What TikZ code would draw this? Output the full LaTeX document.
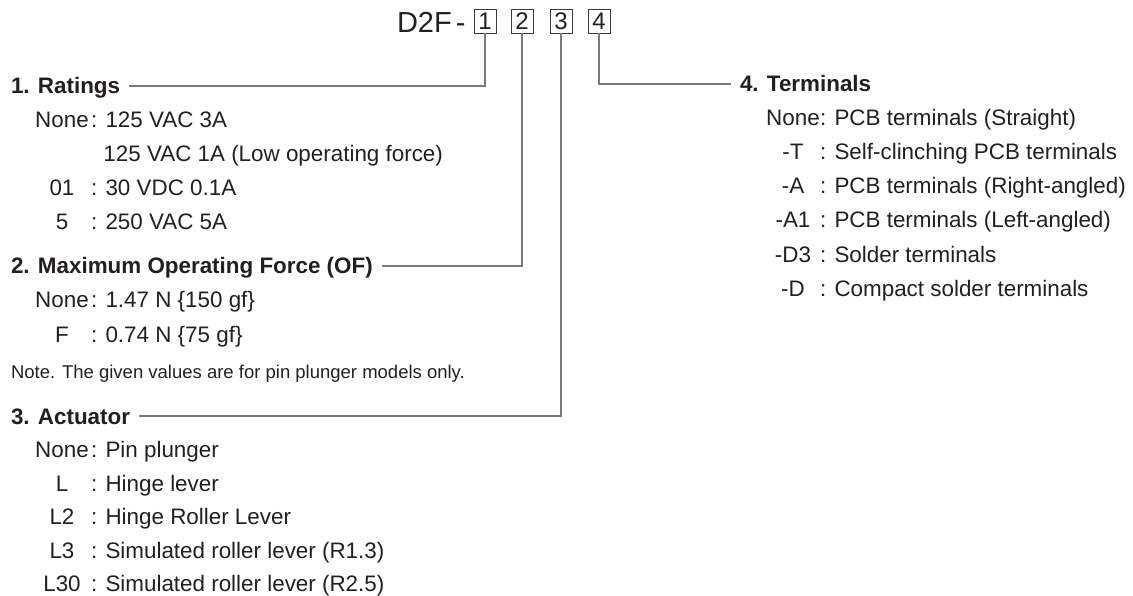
\documentclass[tikz,border=0pt]{standalone}
\usepackage{fontspec}
\setmainfont{Liberation Sans}
\definecolor{txt}{HTML}{231F20}
\definecolor{linegray}{HTML}{7A7A7A}
\definecolor{boxgray}{HTML}{3A3A3A}
\newcommand\optrow[6]{%
  \node[codetext] (#1-c) at (#2,#4) {#5};
  \node[desctext] (#1-d) at (#3,#4) {: #6};}
\begin{document}
\begin{tikzpicture}[x=1pt,y=-1pt,
  every node/.style={inner sep=0pt, outer sep=0pt, text=txt},
  bodyfont/.style={font=\fontsize{22.4}{26}\selectfont},
  headtext/.style={font=\fontsize{22.4}{26}\selectfont\bfseries, text height=16pt, text depth=0pt, anchor=base west},
  codetext/.style={bodyfont, anchor=base},
  desctext/.style={bodyfont, anchor=base west},
  conn/.style={draw=linegray, line width=1.3pt},
  digitbox/.style={draw=boxgray, line width=0.9pt, minimum width=22pt, minimum height=24pt, font=\fontsize{24}{28}\selectfont, anchor=north west}
]
\useasboundingbox (0,0) rectangle (1133,596);

% header
\node[font=\fontsize{29}{33}\selectfont, anchor=base west] (model) at (397,33) {D2F\hspace{4pt}-};
\node[digitbox] (b1) at (474,9) {1};
\node[digitbox] (b2) at (511,9) {2};
\node[digitbox] (b3) at (550,9) {3};
\node[digitbox] (b4) at (588,9) {4};

% 1. Ratings
\node[headtext] (t1) at (11,94) {1. Ratings};
\optrow{r1}{62}{91}{128}{None}{125 VAC 3A}
\node[desctext] (r1b-d) at (91,162) {\phantom{:} 125 VAC 1A (Low operating force)};
\optrow{r2}{62}{91}{196}{01}{30 VDC 0.1A}
\optrow{r3}{62}{91}{230}{5}{250 VAC 5A}

% 2. Maximum Operating Force
\node[headtext] (t2) at (11,274) {2. Maximum Operating Force (OF)};
\optrow{f1}{62}{91}{308}{None}{1.47 N \{150 gf\}}
\optrow{f2}{62}{91}{342}{F}{0.74 N \{75 gf\}}
\node[font=\fontsize{18.5}{22}\selectfont, anchor=base west] (note) at (11,378) {Note. The given values are for pin plunger models only.};

% 3. Actuator
\node[headtext] (t3) at (11,424) {3. Actuator};
\optrow{a1}{62}{91}{457.5}{None}{Pin plunger}
\optrow{a2}{62}{91}{491}{L}{Hinge lever}
\optrow{a3}{62}{91}{524.5}{L2}{Hinge Roller Lever}
\optrow{a4}{62}{91}{558}{L3}{Simulated roller lever (R1.3)}
\optrow{a5}{62}{91}{591}{L30}{Simulated roller lever (R2.5)}

% 4. Terminals
\node[headtext] (t4) at (740,92) {4. Terminals};
\optrow{k1}{793}{820}{126}{None}{PCB terminals (Straight)}
\optrow{k2}{793}{820}{160}{-T}{Self-clinching PCB terminals}
\optrow{k3}{793}{820}{194}{-A}{PCB terminals (Right-angled)}
\optrow{k4}{793}{820}{228}{-A1}{PCB terminals (Left-angled)}
\optrow{k5}{793}{820}{262}{-D3}{Solder terminals}
\optrow{k6}{793}{820}{296}{-D}{Compact solder terminals}

% connectors
\draw[conn, shorten >=9pt] (b1.south) |- (t1.east);
\draw[conn, shorten >=9pt] (b2.south) |- (t2.east);
\draw[conn, shorten >=9pt] (b3.south) |- (t3.east);
\draw[conn, shorten >=9pt] (b4.south) |- (t4.west);
\end{tikzpicture}
\end{document}
